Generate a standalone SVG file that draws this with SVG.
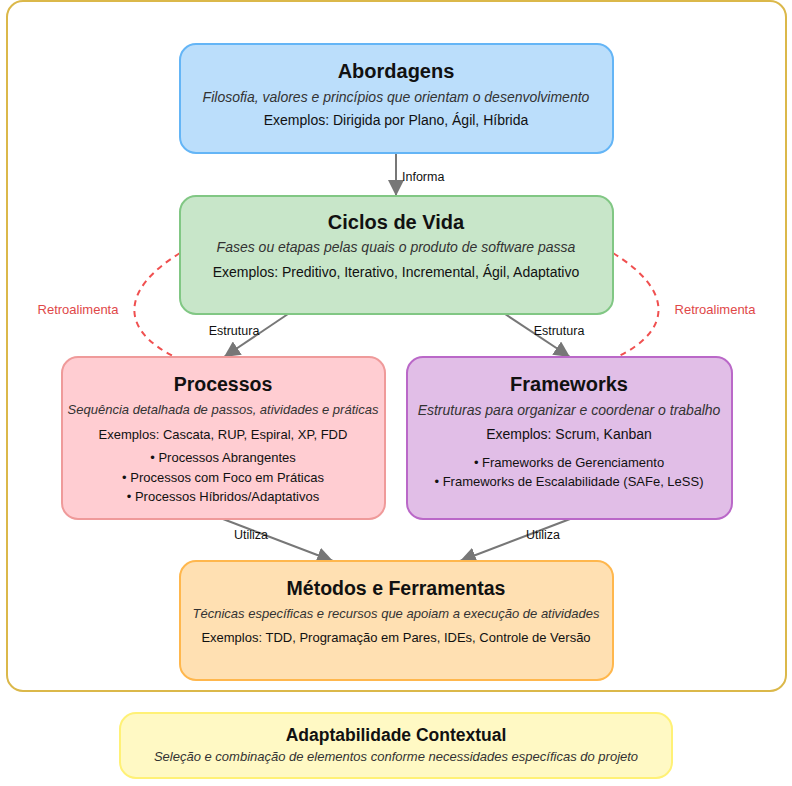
<svg xmlns="http://www.w3.org/2000/svg" width="792" height="786" viewBox="0 0 792 786">
<style>
text{font-family:"Liberation Sans",Arial,sans-serif;fill:#111;text-anchor:middle}
.t{font-size:20px;font-weight:bold}
.s{font-size:14px;font-style:italic;fill:#333}
.e{font-size:14px}
.sm{font-size:13px}
.b{font-size:13px}
.l{font-size:12.5px}
.r{font-size:13px;fill:#e04848}
.c{stroke:#777;stroke-width:2;fill:none;marker-end:url(#ah)}
.f{stroke:#f05050;stroke-width:2;fill:none;stroke-dasharray:6,5}
</style>
<defs>
<marker id="ah" viewBox="0 0 10 10" refX="10" refY="5" markerWidth="8" markerHeight="8" orient="auto" markerUnits="strokeWidth">
<path d="M0,0 L10,5 L0,10 z" fill="#777"/>
</marker>
</defs>
<rect width="792" height="786" fill="#fff"/>
<rect x="7" y="1" width="779" height="690" rx="16" fill="none" stroke="#dbb84a" stroke-width="2"/>
<g id="connectors">
<line class="c" x1="396" y1="153" x2="396" y2="196"/>
<line class="c" x1="288" y1="314" x2="224" y2="357"/>
<line class="c" x1="505" y1="314" x2="570" y2="357"/>
<line class="c" x1="223" y1="519" x2="333" y2="561"/>
<line class="c" x1="570" y1="519" x2="460" y2="561"/>
<path class="f" d="M180,253 C120,290 120,330 175,357"/>
<path class="f" d="M613,253 C673,290 673,330 617,357"/>
<text class="l" x="402" y="181" style="text-anchor:start">Informa</text>
<text class="l" x="234" y="335">Estrutura</text>
<text class="l" x="559" y="335">Estrutura</text>
<text class="l" x="251" y="539">Utiliza</text>
<text class="l" x="543" y="539">Utiliza</text>
<text class="r" x="78" y="314">Retroalimenta</text>
<text class="r" x="715" y="314">Retroalimenta</text>
</g>
<g id="abordagens">
<rect x="180" y="44" width="433" height="109" rx="16" fill="#bbdefb" stroke="#64b5f6" stroke-width="2"/>
<text class="t" x="396" y="78">Abordagens</text>
<text class="s" x="396" y="102">Filosofia, valores e princípios que orientam o desenvolvimento</text>
<text class="e" x="396" y="125">Exemplos: Dirigida por Plano, Ágil, Híbrida</text>
</g>
<g id="ciclos">
<rect x="180" y="196" width="433" height="118" rx="16" fill="#c8e6c9" stroke="#81c784" stroke-width="2"/>
<text class="t" x="396" y="229">Ciclos de Vida</text>
<text class="s" x="396" y="252">Fases ou etapas pelas quais o produto de software passa</text>
<text class="e" x="396" y="277">Exemplos: Preditivo, Iterativo, Incremental, Ágil, Adaptativo</text>
</g>
<g id="processos">
<rect x="62" y="357" width="323" height="162" rx="16" fill="#ffcdd2" stroke="#ef9a9a" stroke-width="2"/>
<text class="t" x="223" y="391" style="font-size:19.5px">Processos</text>
<text class="s sm" x="223" y="414">Sequência detalhada de passos, atividades e práticas</text>
<text class="e sm" x="223" y="439">Exemplos: Cascata, RUP, Espiral, XP, FDD</text>
<text class="b" x="223" y="462">• Processos Abrangentes</text>
<text class="b" x="223" y="482">• Processos com Foco em Práticas</text>
<text class="b" x="223" y="501">• Processos Híbridos/Adaptativos</text>
</g>
<g id="frameworks">
<rect x="407" y="357" width="325" height="162" rx="16" fill="#e1bee7" stroke="#ba68c8" stroke-width="2"/>
<text class="t" x="569" y="391">Frameworks</text>
<text class="s" x="569" y="415">Estruturas para organizar e coordenar o trabalho</text>
<text class="e" x="569" y="439">Exemplos: Scrum, Kanban</text>
<text class="b" x="569" y="467">• Frameworks de Gerenciamento</text>
<text class="b" x="569" y="486">• Frameworks de Escalabilidade (SAFe, LeSS)</text>
</g>
<g id="metodos">
<rect x="180" y="561" width="433" height="119" rx="16" fill="#ffe0b2" stroke="#ffb74d" stroke-width="2"/>
<text class="t" x="396" y="595" style="font-size:19.5px">Métodos e Ferramentas</text>
<text class="s sm" x="396" y="618">Técnicas específicas e recursos que apoiam a execução de atividades</text>
<text class="e sm" x="396" y="642">Exemplos: TDD, Programação em Pares, IDEs, Controle de Versão</text>
</g>
<g id="adaptabilidade">
<rect x="120" y="713" width="552" height="65" rx="16" fill="#fff9c4" stroke="#fff176" stroke-width="2"/>
<text x="396" y="741" style="font-size:17.5px;font-weight:bold">Adaptabilidade Contextual</text>
<text x="396" y="761" style="font-size:13px;font-style:italic;fill:#333">Seleção e combinação de elementos conforme necessidades específicas do projeto</text>
</g>
</svg>
